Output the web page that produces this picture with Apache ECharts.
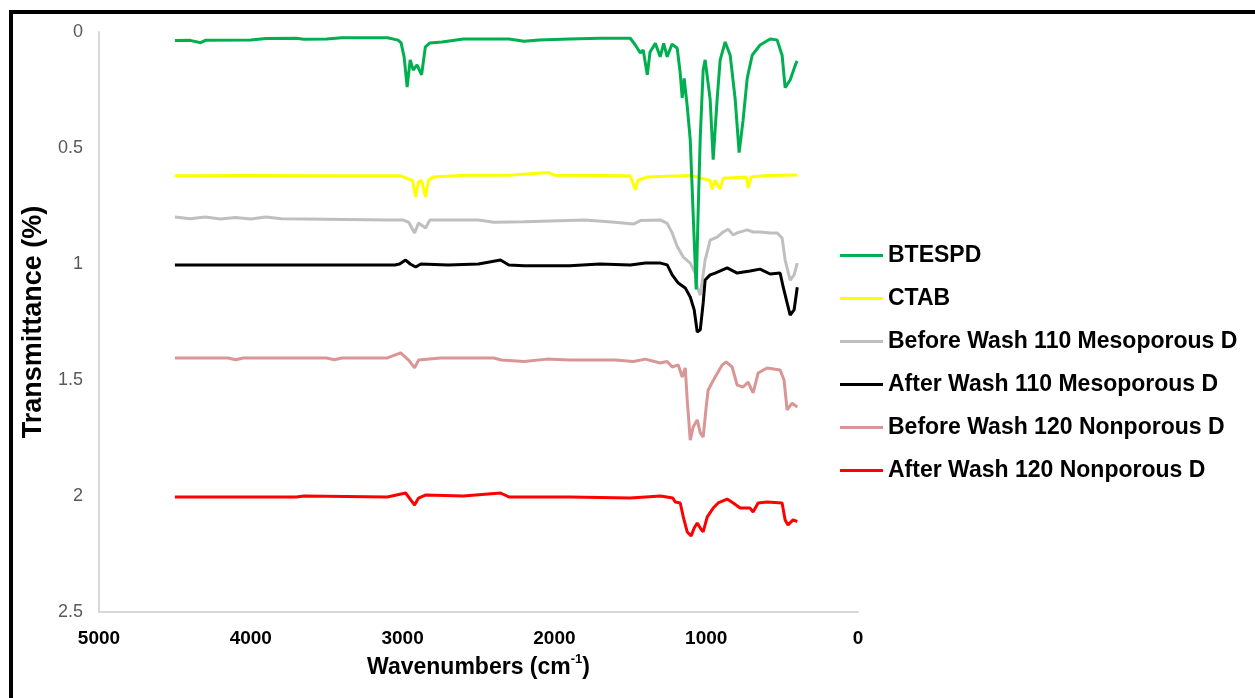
<!DOCTYPE html>
<html>
<head>
<meta charset="utf-8">
<script src="https://cdn.jsdelivr.net/npm/echarts@6/dist/echarts.min.js"></script>
<style>
  html, body { margin: 0; padding: 0; background: #ffffff; }
  #chart { width: 1255px; height: 698px; }
</style>
</head>
<body>
<div id="chart"></div>
<script>
// ---- Data (wavenumber cm-1, transmittance offset) ----
const seriesNames = [
  'BTESPD',
  'CTAB',
  'Before Wash 110 Mesoporous D',
  'After Wash 110 Mesoporous D',
  'Before Wash 120 Nonporous D',
  'After Wash 120 Nonporous D'
];
const xTicks = [5000, 4000, 3000, 2000, 1000, 0];
const yTicks = [0, 0.5, 1, 1.5, 2, 2.5];

const btespd = [[4500,0.037],[4400,0.036],[4330,0.046],[4300,0.036],[4000,0.034],[3900,0.028],[3700,0.027],[3650,0.031],[3500,0.03],[3400,0.025],[3100,0.025],[3030,0.035],[3010,0.047],[2990,0.107],[2970,0.237],[2950,0.12],[2930,0.164],[2905,0.142],[2875,0.185],[2850,0.064],[2820,0.047],[2740,0.043],[2600,0.03],[2300,0.03],[2200,0.04],[2100,0.034],[1900,0.03],[1700,0.027],[1500,0.027],[1467,0.056],[1434,0.09],[1415,0.078],[1388,0.185],[1370,0.086],[1335,0.049],[1303,0.107],[1280,0.049],[1257,0.107],[1225,0.052],[1191,0.07],[1171,0.178],[1158,0.284],[1145,0.2],[1125,0.32],[1105,0.466],[1085,0.8],[1066,1.11],[1052,0.75],[1039,0.45],[1020,0.164],[1007,0.12],[974,0.29],[954,0.55],[928,0.29],[908,0.12],[875,0.043],[842,0.1],[809,0.29],[783,0.52],[757,0.38],[730,0.2],[697,0.1],[645,0.056],[579,0.03],[533,0.034],[500,0.1],[480,0.24],[447,0.207],[408,0.134],[400,0.125]];

const ctab = [[4500,0.62],[4000,0.618],[3500,0.62],[3013,0.62],[2935,0.64],[2914,0.711],[2895,0.646],[2875,0.64],[2849,0.711],[2830,0.64],[2800,0.625],[2600,0.617],[2300,0.617],[2040,0.606],[2000,0.617],[1700,0.618],[1500,0.62],[1467,0.68],[1450,0.64],[1390,0.625],[1100,0.618],[975,0.64],[961,0.677],[941,0.64],[908,0.677],[888,0.63],[735,0.625],[724,0.672],[704,0.625],[600,0.618],[400,0.616]];

const beforeWash110 = [[4500,0.797],[4400,0.805],[4300,0.797],[4200,0.806],[4100,0.8],[4000,0.806],[3900,0.797],[3800,0.805],[3651,0.806],[3100,0.81],[3000,0.81],[2960,0.82],[2921,0.866],[2895,0.823],[2849,0.845],[2820,0.81],[2500,0.81],[2400,0.82],[2200,0.818],[1800,0.81],[1600,0.82],[1480,0.828],[1430,0.812],[1303,0.81],[1257,0.825],[1224,0.866],[1191,0.925],[1151,0.97],[1105,0.996],[1072,1.04],[1059,1.1],[1039,1.134],[1007,0.983],[974,0.897],[928,0.884],[888,0.862],[855,0.85],[822,0.875],[796,0.866],[730,0.853],[691,0.862],[645,0.862],[579,0.866],[533,0.866],[500,0.888],[480,0.983],[447,1.07],[421,1.047],[400,0.996]];

const afterWash110 = [[4500,1.004],[3050,1.004],[3020,1.0],[2980,0.983],[2950,1.0],[2914,1.013],[2880,1.0],[2700,1.004],[2500,1.0],[2355,0.983],[2300,1.004],[2200,1.008],[1900,1.008],[1700,1.0],[1500,1.004],[1400,0.996],[1300,0.996],[1257,1.004],[1224,1.047],[1184,1.082],[1138,1.103],[1105,1.142],[1079,1.198],[1059,1.293],[1039,1.284],[1020,1.168],[1007,1.069],[974,1.047],[941,1.039],[862,1.017],[796,1.039],[711,1.03],[645,1.022],[579,1.043],[513,1.039],[493,1.099],[467,1.168],[447,1.22],[421,1.198],[410,1.19],[400,1.1]];

const beforeWash120 = [[4500,1.405],[4150,1.405],[4100,1.413],[4050,1.405],[3500,1.405],[3450,1.413],[3400,1.405],[3100,1.405],[3013,1.383],[2960,1.414],[2921,1.448],[2895,1.414],[2750,1.405],[2400,1.405],[2350,1.414],[2200,1.42],[2050,1.41],[1900,1.414],[1600,1.414],[1480,1.42],[1400,1.41],[1303,1.427],[1257,1.42],[1224,1.444],[1184,1.435],[1158,1.487],[1138,1.448],[1125,1.586],[1105,1.759],[1086,1.703],[1059,1.672],[1039,1.728],[1020,1.746],[1000,1.616],[987,1.543],[941,1.487],[895,1.435],[868,1.422],[829,1.444],[796,1.522],[757,1.53],[724,1.509],[691,1.556],[658,1.47],[599,1.448],[513,1.457],[487,1.5],[467,1.629],[434,1.6],[400,1.616]];

const afterWash120 = [[4500,2.004],[3700,2.004],[3650,2.0],[3100,2.004],[2980,1.987],[2921,2.039],[2895,2.009],[2850,1.996],[2600,2.0],[2355,1.987],[2300,2.004],[1900,2.004],[1500,2.009],[1400,2.004],[1300,2.0],[1220,2.009],[1204,2.026],[1171,2.03],[1151,2.09],[1125,2.155],[1099,2.172],[1079,2.138],[1059,2.116],[1039,2.138],[1020,2.155],[993,2.09],[954,2.052],[921,2.03],[862,2.013],[822,2.03],[776,2.052],[711,2.052],[691,2.069],[658,2.03],[599,2.026],[500,2.03],[480,2.103],[461,2.125],[428,2.103],[400,2.11]];

const seriesData = [btespd, ctab, beforeWash110, afterWash110, beforeWash120, afterWash120];
const colors = ['#00B050', '#FFFF00', '#BFBFBF', '#000000', '#D99694', '#FF0000'];

const FONT = '"Liberation Sans", Arial, sans-serif';

const chart = echarts.init(document.getElementById('chart'), null, { renderer: 'canvas' });

const option = {
  animation: false,
  backgroundColor: '#ffffff',
  grid: { left: 99, right: 397, top: 32, bottom: 86, containLabel: false },
  legend: {
    orient: 'vertical',
    left: 835,
    top: 239,
    itemWidth: 43,
    itemHeight: 3,
    itemGap: 20,
    icon: 'rect',
    data: seriesNames,
    textStyle: { fontFamily: FONT, fontSize: 23, fontWeight: 'bold', color: '#000' }
  },
  xAxis: {
    type: 'value',
    inverse: true,
    min: 0,
    max: 5000,
    interval: 1000,
    position: 'bottom',
    axisLine: { show: true, onZero: false, lineStyle: { color: '#D9D9D9', width: 2 } },
    axisTick: { show: false },
    splitLine: { show: false },
    axisLabel: {
      margin: 17, fontFamily: FONT, fontSize: 19, fontWeight: 'bold', color: '#000',
      formatter: (v) => String(v)
    },
    name: 'Wavenumbers (cm{sup|-1})',
    nameLocation: 'middle',
    nameGap: 38,
    nameTextStyle: {
      fontFamily: FONT, fontSize: 23, fontWeight: 'bold', color: '#000', lineHeight: 30,
      rich: { sup: { fontFamily: FONT, fontSize: 13, fontWeight: 'bold', color: '#000', verticalAlign: 'top', lineHeight: 30 } }
    }
  },
  yAxis: {
    type: 'value',
    inverse: true,
    min: 0,
    max: 2.5,
    interval: 0.5,
    position: 'left',
    axisLine: { show: true, onZero: false, lineStyle: { color: '#D9D9D9', width: 2 } },
    axisTick: { show: false },
    splitLine: { show: false },
    axisLabel: { margin: 16, fontFamily: FONT, fontSize: 18, color: '#595959' },
    name: 'Transmittance (%)',
    nameLocation: 'middle',
    nameRotate: 90,
    nameGap: 52,
    nameTextStyle: { fontFamily: FONT, fontSize: 27, fontWeight: 'bold', color: '#000' }
  },
  graphic: [
    { type: 'rect', left: 9, top: 10, shape: { width: 1250, height: 4 }, style: { fill: '#000' }, silent: true },
    { type: 'rect', left: 9, top: 10, shape: { width: 4, height: 700 }, style: { fill: '#000' }, silent: true }
  ],
  series: seriesNames.map((name, i) => ({
    name: name,
    type: 'line',
    data: seriesData[i],
    showSymbol: false,
    symbol: 'none',
    smooth: false,
    z: i === 0 ? 5 : 2,
    color: colors[i],
    lineStyle: { color: colors[i], width: 3 }
  }))
};

chart.setOption(option);
</script>
</body>
</html>
